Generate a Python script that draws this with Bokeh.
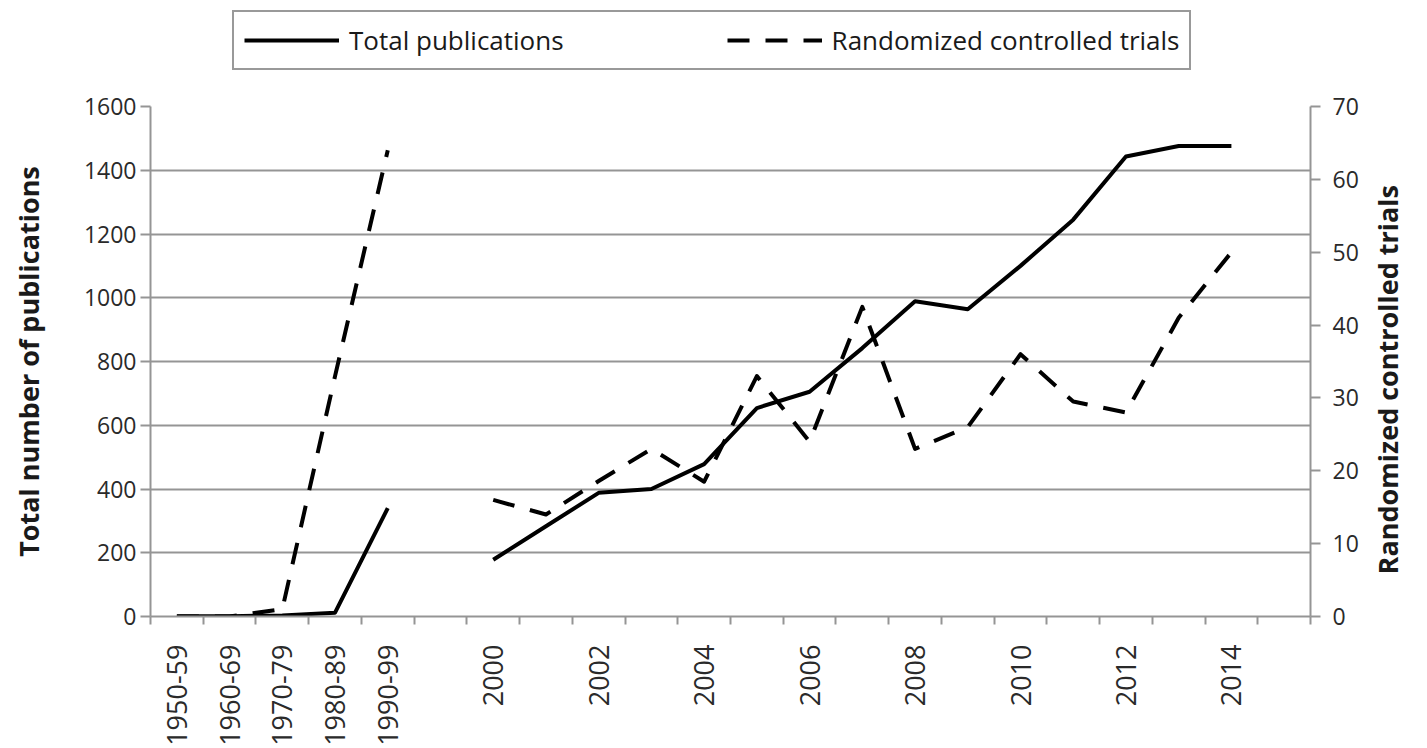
import math
from bokeh.plotting import figure
from bokeh.layouts import column
from bokeh.models import (Range1d, LinearAxis, FixedTicker, Legend, LegendItem)
from bokeh.embed import file_html
from bokeh.resources import INLINE

nan = float("nan")

categories = ["1950-59", "1960-69", "1970-79", "1980-89", "1990-99", "gap",
              "2000", "2001", "2002", "2003", "2004", "2005", "2006", "2007",
              "2008", "2009", "2010", "2011", "2012", "2013", "2014", "end"]
tick_labels = ["1950-59", "1960-69", "1970-79", "1980-89", "1990-99", "",
               "2000", "", "2002", "", "2004", "", "2006", "", "2008", "",
               "2010", "", "2012", "", "2014", ""]
total_publications = [1, 1, 3, 12, 340, nan, 178, 283, 388, 400, 478, 654,
                      705, 842, 989, 964, 1100, 1245, 1443, 1476, 1476, nan]
randomized_trials = [0, 0, 1, 33, 64, nan, 16, 14, 18.6, 23, 18.5, 33, 24,
                     42.5, 23, 26, 36, 29.5, 28, 41, 50, nan]
left_ticks = [0, 200, 400, 600, 800, 1000, 1200, 1400, 1600]
right_ticks = [0, 10, 20, 30, 40, 50, 60, 70]
series_names = ["Total publications", "Randomized controlled trials"]
left_title = "Total number of publications"
right_title = "Randomized controlled trials"

FONT = "Open Sans"
TXT = "#2a2a2a"
GRAY = "#959595"

W = 1427
TOP_H = 86
MAIN_H = 748 - TOP_H

n = len(categories)
xs = list(range(n))

# ---------------- main chart ----------------
p = figure(width=W, height=MAIN_H, output_backend="svg", toolbar_location=None,
           x_range=Range1d(-0.5, n - 0.5), y_range=Range1d(0, 1600),
           min_border_left=150, min_border_right=114, min_border_top=20,
           min_border_bottom=131)
p.outline_line_color = None
p.background_fill_color = "white"
p.extra_y_ranges = {"rct": Range1d(0, 70)}

xa = p.xaxis[0]
xa.ticker = FixedTicker(ticks=xs, minor_ticks=[i - 0.5 for i in range(n + 1)])
xa.major_label_overrides = {i: lbl for i, lbl in enumerate(tick_labels)}
xa.major_label_orientation = math.pi / 2
xa.major_tick_out = 0
xa.major_tick_in = 0
xa.minor_tick_out = 8
xa.minor_tick_in = 0
xa.minor_tick_line_color = GRAY
xa.minor_tick_line_width = 2
xa.axis_line_color = GRAY
xa.axis_line_width = 2
xa.major_label_standoff = 20
xa.major_label_text_font = FONT
xa.major_label_text_font_size = "27px"
xa.major_label_text_color = TXT
p.xgrid.visible = False

ya = p.yaxis[0]
ya.ticker = FixedTicker(ticks=left_ticks)
ya.axis_line_color = GRAY
ya.axis_line_width = 2
ya.major_tick_out = 10
ya.major_tick_in = 0
ya.major_tick_line_color = GRAY
ya.major_tick_line_width = 2
ya.minor_tick_line_color = None
ya.major_label_text_font = FONT
ya.major_label_text_font_size = "23px"
ya.major_label_text_color = TXT
ya.major_label_standoff = 4
ya.axis_label = left_title
ya.axis_label_text_font = FONT
ya.axis_label_text_font_style = "bold"
ya.axis_label_text_font_size = "27px"
ya.axis_label_text_color = "#1a1a1a"
ya.axis_label_standoff = 34
p.ygrid.grid_line_color = GRAY
p.ygrid.grid_line_width = 2

ra = LinearAxis(y_range_name="rct", ticker=FixedTicker(ticks=right_ticks))
ra.axis_line_color = GRAY
ra.axis_line_width = 2
ra.major_tick_out = 10
ra.major_tick_in = 0
ra.major_tick_line_color = GRAY
ra.major_tick_line_width = 2
ra.minor_tick_line_color = None
ra.major_label_text_font = FONT
ra.major_label_text_font_size = "23px"
ra.major_label_text_color = TXT
ra.major_label_standoff = 12
ra.axis_label = right_title
ra.axis_label_text_font = FONT
ra.axis_label_text_font_style = "bold"
ra.axis_label_text_font_size = "27px"
ra.axis_label_text_color = "#1a1a1a"
ra.axis_label_standoff = 26
try:
    # read bottom-to-top like the left title, anchored at the axis start
    ra.axis_label_align = "start"
    ra.axis_label_orientation = math.pi / 2
    ra.axis_label = "\u00a0" * 6 + right_title
except (AttributeError, ValueError):
    pass
p.add_layout(ra, "right")

p.line(xs, total_publications, line_color="black", line_width=4,
       line_join="round")
p.line(xs, randomized_trials, y_range_name="rct", line_color="black",
       line_width=4, line_dash="22 16", line_join="round")

# ---------------- legend strip above the chart ----------------
# the series are drawn here too, but outside this strip's visible range,
# so only their legend keys show
top = figure(width=W, height=TOP_H, output_backend="svg", toolbar_location=None,
             x_axis_type=None, y_axis_type=None, x_range=Range1d(-0.5, n - 0.5),
             y_range=Range1d(50000, 50001), min_border=0)
top.outline_line_color = None
top.xgrid.visible = False
top.ygrid.visible = False
k1 = top.line(xs, total_publications, line_color="black", line_width=4)
k2 = top.line(xs, randomized_trials, line_color="black", line_width=4,
              line_dash="22 16")

legend = Legend(items=[LegendItem(label=series_names[0], renderers=[k1]),
                       LegendItem(label=series_names[1], renderers=[k2])],
                orientation="horizontal", location=(82, 16))
legend.border_line_color = "#333333"
legend.border_line_width = 2
legend.background_fill_color = "white"
legend.background_fill_alpha = 1
legend.label_text_font = FONT
legend.label_text_font_size = "26px"
legend.label_text_color = "#1a1a1a"
legend.glyph_width = 95
legend.glyph_height = 20
legend.label_standoff = 10
legend.spacing = 163
legend.padding = 10
legend.margin = 0
top.add_layout(legend, "center")

layout = column(top, p, spacing=0)
open("out.html", "w").write(file_html(layout, INLINE))
